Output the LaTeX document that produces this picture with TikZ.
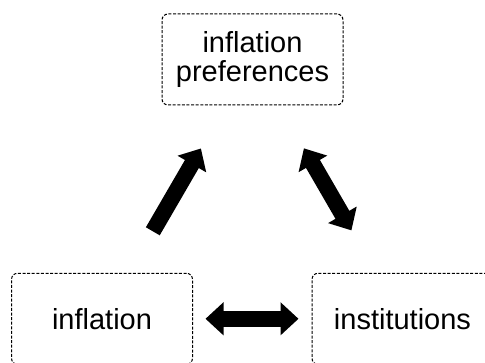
\documentclass[tikz,border=0pt]{standalone}
\usepackage{fontspec}
\setmainfont{Liberation Sans}
\usepackage{tikz}
\usetikzlibrary{arrows.meta}
\tikzset{box/.style = {draw = black, line width = 1pt, dash pattern = on 3pt off 1.6pt,
                       rounded corners = 6pt, minimum width = 181pt, minimum height = 91pt,
                       inner sep = 0, align = center, font = \fontsize{29}{29}\selectfont}}
\tikzset{bigarrow/.style = {line width = 16pt, -{Triangle[length = 18pt, width = 32pt]}}}
\tikzset{bigdouble/.style = {line width = 16pt, {Triangle[length = 18pt, width = 32pt]}-{Triangle[length = 18pt, width = 32pt]}}}

\begin{document}
\begin{tikzpicture}[x = 1pt, y = 1pt]
           \useasboundingbox (0, 0) rectangle (485, 363);

           \node [box] (pref) at (252.5, 303.5) {inflation\\preferences};
           \node [box] (infl) at (102, 44.2) {inflation};
           \node [box] (inst) at (402.5, 44.2) {institutions};

           \draw [bigarrow, shorten < = 48pt, shorten > = 49.7pt] (infl) -- (pref);
           \draw [bigdouble, shorten < = 49.5pt, shorten > = 49pt] (pref) -- (inst);
           \draw [bigdouble, shorten < = 12.5pt, shorten > = 13pt] (infl.east) -- (inst.west);
         \end{tikzpicture}
\end{document}
